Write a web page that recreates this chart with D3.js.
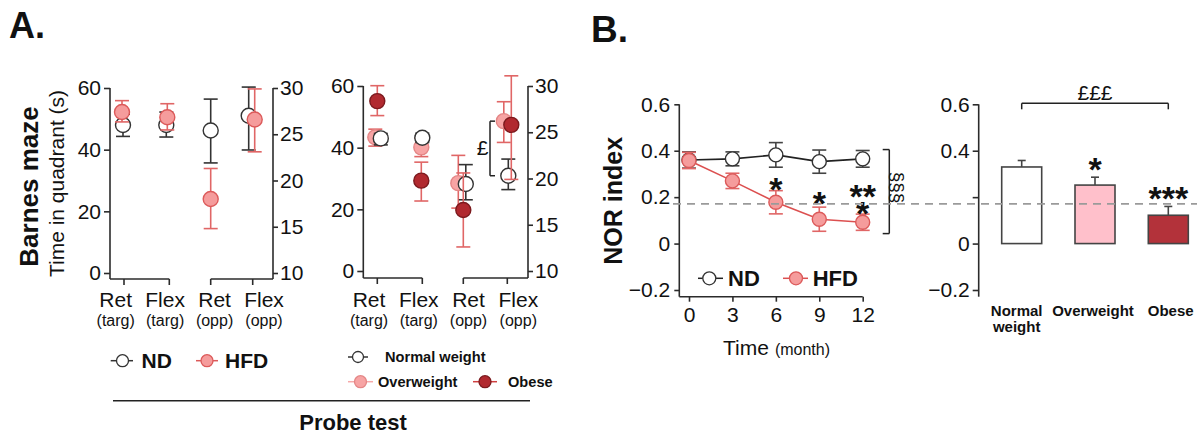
<!DOCTYPE html>
<html><head><meta charset="utf-8">
<script src="https://cdn.jsdelivr.net/npm/d3@7"></script>
<style>
body{margin:0;background:#fff}
svg{display:block}
text{font-family:"Liberation Sans",Arial,Helvetica,sans-serif;fill:#111}
</style>
</head><body>
<svg id="c" width="1202" height="434"></svg>
<script>
// ---------------- DATA ----------------
const probeMain = ["Ret", "Flex", "Ret", "Flex"];
const probeSub = ["(targ)", "(targ)", "(opp)", "(opp)"];
const leftTicksA = [0, 20, 40, 60];
const rightTicksA = [10, 15, 20, 25, 30];
// first two categories on left axis (s), last two on right axis
const ndMean = [48.0, 48.0, 25.4, 27.0];
const ndLow = [44.3, 44.1, 21.9, 23.3];
const ndHigh = [51.5, 52.2, 28.8, 30.1];
const hfdMean = [52.2, 50.5, 18.0, 26.6];
const hfdLow = [49.0, 46.4, 14.8, 23.1];
const hfdHigh = [55.9, 54.9, 21.3, 29.9];

const normMean = [43.0, 43.2, 19.4, 20.3];
const normLow = [40.9, 41.7, 17.7, 18.8];
const normHigh = [44.6, 44.7, 21.5, 22.1];
const overMean = [43.4, 40.1, 19.5, 26.2];
const overLow = [40.5, 37.1, 16.8, 23.9];
const overHigh = [46.0, 43.1, 22.5, 28.3];
const obeseMean = [55.1, 29.3, 16.6, 25.8];
const obeseLow = [50.4, 22.7, 12.6, 19.9];
const obeseHigh = [60.1, 35.3, 20.6, 31.1];

const months = [0, 3, 6, 9, 12];
const norTicks = [-0.2, 0, 0.2, 0.4, 0.6];
const norND = [0.360, 0.365, 0.382, 0.353, 0.365];
const norNDerr = [0.035, 0.030, 0.053, 0.050, 0.036];
const norHFD = [0.358, 0.270, 0.178, 0.105, 0.092];
const norHFDerr = [0.035, 0.033, 0.050, 0.052, 0.035];
const chanceLevel = 0.171;
const starsB = [["*", 6, 0.265], ["*", 9, 0.205], ["**", 12, 0.232], ["*", 12, 0.160]];

const groups = ["Normal weight", "Overweight", "Obese"];
const groupMean = [0.330, 0.252, 0.122];
const groupErr = [0.028, 0.034, 0.038];
const groupStars = ["", "*", "***"];

// ---------------- STYLE / LAYOUT ----------------
const C = {
  axis: "#2b2b2b", nd: "#333", ndFill: "#fff",
  hfdFill: "#f59c9c", hfdStroke: "#dc5a5a", hfdErr: "#e06666",
  overFill: "#f7a4a4", overStroke: "#e48686",
  obeseFill: "#b1292f", obeseStroke: "#7c1a1e",
  barOver: "#ffc0cb", barObese: "#b3323a"
};
const STAR = 34;
const svg = d3.select("#c");
svg.append("rect").attr("width", 1202).attr("height", 434).attr("fill", "#fff");

function vline(g, x, y1, y2, color, w) {
  g.append("line").attr("x1", x).attr("x2", x).attr("y1", y1).attr("y2", y2)
    .attr("stroke", color || C.axis).attr("stroke-width", w || 1.6);
}
function hline(g, x1, x2, y, color, w) {
  g.append("line").attr("x1", x1).attr("x2", x2).attr("y1", y).attr("y2", y)
    .attr("stroke", color || C.axis).attr("stroke-width", w || 1.6);
}
function styleAxis(sel, fs) {
  sel.select(".domain").remove();
  sel.selectAll(".tick line").attr("stroke", C.axis).attr("stroke-width", 1.6);
  sel.selectAll(".tick text").attr("font-size", fs).attr("fill", "#111")
    .attr("font-family", '"Liberation Sans",Arial,sans-serif');
}

// ---------------- PANEL A helper ----------------
function probePanel(cfg) {
  const g = svg.append("g");
  const yL = d3.scaleLinear().domain([0, 60]).range([cfg.yBot, cfg.yTop]);
  const yR = d3.scaleLinear().domain([10, 30]).range([cfg.yBot, cfg.yTop]);
  const x = d3.scaleLinear().domain([0, 1, 2, 3]).range(cfg.ticks);
  const xl = d3.scaleLinear().domain([0, 3]).range(cfg.labelRange);
  const yOf = i => (i < 2 ? yL : yR);

  const ga = g.append("g").attr("transform", `translate(${cfg.axL},0)`)
    .call(d3.axisLeft(yL).tickValues(leftTicksA).tickSize(6).tickPadding(3));
  styleAxis(ga, 21);
  vline(g, cfg.axL, cfg.yTop, cfg.xAxY);
  const gb = g.append("g").attr("transform", `translate(${cfg.axR},0)`)
    .call(d3.axisRight(yR).tickValues(rightTicksA).tickSize(5).tickPadding(2));
  styleAxis(gb, 21);
  vline(g, cfg.axR, cfg.yTop, cfg.xAxY);
  // x axis: two segments
  hline(g, cfg.axL, x(1), cfg.xAxY);
  hline(g, x(2), cfg.axR, cfg.xAxY);
  g.selectAll(".xt").data(probeMain).join("line")
    .attr("x1", (d, i) => x(i)).attr("x2", (d, i) => x(i))
    .attr("y1", cfg.xAxY).attr("y2", cfg.xAxY + 6)
    .attr("stroke", C.axis).attr("stroke-width", 1.6);
  g.selectAll(".xm").data(probeMain).join("text")
    .attr("x", (d, i) => xl(i)).attr("y", 307).attr("text-anchor", "middle")
    .attr("font-size", 21).text(d => d);
  g.selectAll(".xs").data(probeSub).join("text")
    .attr("x", (d, i) => xl(i)).attr("y", 326).attr("text-anchor", "middle")
    .attr("font-size", 16).text(d => d);

  cfg.series.forEach(s => {
    const sg = g.append("g");
    const cap = 7;
    s.mean.forEach((m, i) => {
      const cx = x(i) + s.off[i];
      const y = yOf(i);
      sg.append("line").attr("x1", cx).attr("x2", cx).attr("y1", y(s.low[i])).attr("y2", y(s.high[i]))
        .attr("stroke", s.err).attr("stroke-width", 1.6);
      [s.low[i], s.high[i]].forEach(v =>
        sg.append("line").attr("x1", cx - cap).attr("x2", cx + cap).attr("y1", y(v)).attr("y2", y(v))
          .attr("stroke", s.err).attr("stroke-width", 1.6));
    });
    sg.selectAll("circle").data(s.mean).join("circle")
      .attr("cx", (d, i) => x(i) + s.off[i]).attr("cy", (d, i) => yOf(i)(d)).attr("r", 7.5)
      .attr("fill", s.fill).attr("stroke", s.stroke).attr("stroke-width", 1.4);
  });
  return {g, x, yL, yR};
}

// Panel A left
probePanel({
  axL: 110, axR: 273, yTop: 88, yBot: 273, xAxY: 279,
  ticks: [124, 169.3, 210.7, 252.7], labelRange: [115.7, 264],
  series: [
    {mean: ndMean, low: ndLow, high: ndHigh, off: [-1, -3, 0, -4], fill: C.ndFill, stroke: C.nd, err: C.nd},
    {mean: hfdMean, low: hfdLow, high: hfdHigh, off: [-2, -2, 0, 2], fill: C.hfdFill, stroke: C.hfdStroke, err: C.hfdErr}
  ]
});
// Panel A right
const pr = probePanel({
  axL: 363.3, axR: 528, yTop: 86, yBot: 271, xAxY: 278,
  ticks: [377.3, 422.3, 463.3, 507.3], labelRange: [369, 518.3],
  series: [
    {mean: overMean, low: overLow, high: overHigh, off: [-2, -1, -5, -3.5], fill: C.overFill, stroke: C.overStroke, err: C.hfdErr},
    {mean: normMean, low: normLow, high: normHigh, off: [3.5, 0, 2.5, 1], fill: C.ndFill, stroke: C.nd, err: C.nd},
    {mean: obeseMean, low: obeseLow, high: obeseHigh, off: [0, -1, 0, 4], fill: C.obeseFill, stroke: C.obeseStroke, err: C.hfdErr}
  ]
});
// £ bracket between overweight and normal at Flex(opp)
{
  const g = pr.g;
  const y1 = pr.yR(overMean[3]), y2 = pr.yR(normMean[3]);
  vline(g, 490, y1, y2, "#222", 1.5);
  hline(g, 490, 495, y1, "#222", 1.5);
  hline(g, 490, 495, y2, "#222", 1.5);
  g.append("text").attr("x", 482.5).attr("y", (y1 + y2) / 2 + 7).attr("text-anchor", "middle")
    .attr("font-size", 21).text("£");
}

// Panel A titles / labels
svg.append("text").attr("x", 9).attr("y", 37.5).attr("font-size", 36).attr("font-weight", "bold").text("A.");
svg.append("text").attr("transform", "translate(37.5,186.5) rotate(-90)").attr("text-anchor", "middle")
  .attr("font-size", 26).attr("font-weight", "bold").text("Barnes maze");
svg.append("text").attr("transform", "translate(64,183.5) rotate(-90)").attr("text-anchor", "middle")
  .attr("font-size", 21).text("Time in quadrant (s)");

// Panel A legends
function legendItem(g, x1, x2, cx, cy, r, lineColor, fill, stroke, label, tx, fs, bold) {
  hline(g, x1, x2, cy, lineColor, 1.5);
  g.append("circle").attr("cx", cx).attr("cy", cy).attr("r", r).attr("fill", fill).attr("stroke", stroke).attr("stroke-width", 1.3);
  g.append("text").attr("x", tx).attr("y", cy + fs * 0.36).attr("font-size", fs)
    .attr("font-weight", bold ? "bold" : "normal").text(label);
}
const lg = svg.append("g");
legendItem(lg, 110.7, 133, 122.5, 360.7, 6, "#333", "#fff", "#333", "ND", 141.5, 21, true);
legendItem(lg, 196, 218, 207, 360.7, 6, C.hfdStroke, C.hfdFill, C.hfdStroke, "HFD", 225, 21, true);
legendItem(lg, 348, 368, 358, 357, 5.5, "#333", "#fff", "#333", "Normal weight", 385, 14.6, true);
legendItem(lg, 348, 373, 360.5, 381.7, 6, "#f6a9a9", C.overFill, C.overStroke, "Overweight", 378, 14.6, true);
legendItem(lg, 473, 497, 485, 381.7, 6, "#d04040", C.obeseFill, C.obeseStroke, "Obese", 508, 14.6, true);
hline(lg, 113, 530, 400.7, "#222", 1.5);
lg.append("text").attr("x", 353).attr("y", 430).attr("text-anchor", "middle")
  .attr("font-size", 22).attr("font-weight", "bold").text("Probe test");

// ---------------- PANEL B left ----------------
const gB = svg.append("g");
const yB = d3.scaleLinear().domain([-0.2, 0.6]).range([290, 104.3]);
const xB = d3.scaleLinear().domain([0, 12]).range([689, 862.7]);
const fmtB = d => d === 0 ? "0" : d3.format(".1f")(d);
{
  const ga = gB.append("g").attr("transform", "translate(679.3,0)")
    .call(d3.axisLeft(yB).tickValues(norTicks).tickFormat(fmtB).tickSize(5).tickPadding(4));
  styleAxis(ga, 21);
  vline(gB, 679.3, 104.3, 296.7);
  const gx = gB.append("g").attr("transform", "translate(0,296.7)")
    .call(d3.axisBottom(xB).tickValues(months).tickSize(5).tickPadding(5));
  styleAxis(gx, 21);
  hline(gB, 679.3, 862.7, 296.7);

  // chance level dashed line across both B panels
  svg.append("line").attr("x1", 673).attr("x2", 1197).attr("y1", yB(chanceLevel)).attr("y2", yB(chanceLevel))
    .attr("stroke", "#9a9a9a").attr("stroke-width", 1.6).attr("stroke-dasharray", "8,6").attr("class", "chance");

  const series = [
    {v: norND, e: norNDerr, line: "#222", err: "#444", fill: "#fff", stroke: "#333"},
    {v: norHFD, e: norHFDerr, line: "#dc5050", err: "#e06666", fill: C.hfdFill, stroke: C.hfdStroke}
  ];
  series.forEach(s => {
    const sg = gB.append("g");
    sg.append("path").datum(s.v)
      .attr("d", d3.line().x((d, i) => xB(months[i])).y(d => yB(d)))
      .attr("fill", "none").attr("stroke", s.line).attr("stroke-width", 1.6);
    s.v.forEach((v, i) => {
      const cx = xB(months[i]);
      sg.append("line").attr("x1", cx).attr("x2", cx).attr("y1", yB(v - s.e[i])).attr("y2", yB(v + s.e[i]))
        .attr("stroke", s.err).attr("stroke-width", 1.6);
      [v - s.e[i], v + s.e[i]].forEach(w =>
        sg.append("line").attr("x1", cx - 7).attr("x2", cx + 7).attr("y1", yB(w)).attr("y2", yB(w))
          .attr("stroke", s.err).attr("stroke-width", 1.6));
    });
    sg.selectAll("circle").data(s.v).join("circle")
      .attr("cx", (d, i) => xB(months[i])).attr("cy", d => yB(d)).attr("r", 7)
      .attr("fill", s.fill).attr("stroke", s.stroke).attr("stroke-width", 1.4);
  });
  // stars
  gB.selectAll(".star").data(starsB).join("text")
    .attr("x", d => xB(d[1])).attr("y", d => yB(d[2]) + STAR * 0.55)
    .attr("text-anchor", "middle").attr("font-size", STAR).attr("font-weight", "bold").text(d => d[0]);
  // §§§ bracket
  const yt = yB(0.405), yb = yB(0.043);
  vline(gB, 889.3, yt, yb, "#222", 1.5);
  hline(gB, 882.7, 889.3, yt, "#222", 1.5);
  hline(gB, 882.7, 889.3, yb, "#222", 1.5);
  gB.append("text").attr("transform", `translate(891,${(yt + yb) / 2 - 4}) rotate(90)`).attr("text-anchor", "middle")
    .attr("font-size", 19).text("§§§");

  // legend
  legendItem(gB, 698, 723, 709.3, 278.3, 6.5, "#222", "#fff", "#333", "ND", 728, 22, true);
  legendItem(gB, 783, 808, 796, 278.3, 6.5, "#dc5050", C.hfdFill, C.hfdStroke, "HFD", 812.7, 22, true);

  svg.append("text").attr("x", 591).attr("y", 41.7).attr("font-size", 37).attr("font-weight", "bold").text("B.");
  svg.append("text").attr("transform", "translate(621.5,200.8) rotate(-90)").attr("text-anchor", "middle")
    .attr("font-size", 25).attr("font-weight", "bold").text("NOR index");
  const tl = svg.append("text").attr("x", 723).attr("y", 355).attr("font-size", 21);
  tl.append("tspan").text("Time");
  tl.append("tspan").attr("dx", 6).attr("font-size", 16).text("(month)");
}

// ---------------- PANEL B right ----------------
const gC = svg.append("g");
{
  const xC = d3.scalePoint().domain(groups).range([1021.7, 1168.3]);
  const ga = gC.append("g").attr("transform", "translate(978.7,0)")
    .call(d3.axisLeft(yB).tickValues(norTicks).tickFormat(d => Math.abs(d - 0.2) < 1e-9 ? "" : fmtB(d)).tickSize(6).tickPadding(3));
  styleAxis(ga, 21);
  vline(gC, 978.7, 104.3, 296.7);
  const fills = ["#fff", C.barOver, C.barObese];
  const bw = 40;
  gC.selectAll("rect.bar").data(groupMean).join("rect").attr("class", "bar")
    .attr("x", (d, i) => xC(groups[i]) - bw / 2).attr("width", bw)
    .attr("y", d => yB(d)).attr("height", d => yB(0) - yB(d))
    .attr("fill", (d, i) => fills[i]).attr("stroke", "#444").attr("stroke-width", 1.6);
  groupMean.forEach((m, i) => {
    const cx = xC(groups[i]);
    vline(gC, cx, yB(m), yB(m + groupErr[i]), "#444", 1.6);
    hline(gC, cx - 4, cx + 4, yB(m + groupErr[i]), "#444", 1.6);
  });
  gC.selectAll(".gs").data(groupStars).join("text")
    .attr("x", (d, i) => xC(groups[i])).attr("y", (d, i) => yB(groupMean[i] + groupErr[i]) - 15 + STAR * 0.55)
    .attr("text-anchor", "middle").attr("font-size", STAR).attr("font-weight", "bold").text(d => d);
  // £££ bracket normal vs obese
  const by = 103.3;
  hline(gC, xC(groups[0]), xC(groups[2]), by, "#222", 1.5);
  vline(gC, xC(groups[0]), by, by + 6, "#222", 1.5);
  vline(gC, xC(groups[2]), by, by + 6, "#222", 1.5);
  gC.append("text").attr("x", (xC(groups[0]) + xC(groups[2])) / 2).attr("y", 99.5).attr("text-anchor", "middle")
    .attr("font-size", 21).text("£££");
  // category labels
  const labelX = [1016.7, 1093, 1170.7];
  gC.append("text").attr("x", labelX[0]).attr("y", 315.5).attr("text-anchor", "middle").attr("font-size", 15).attr("font-weight", "bold").text("Normal");
  gC.append("text").attr("x", labelX[0]).attr("y", 332).attr("text-anchor", "middle").attr("font-size", 15).attr("font-weight", "bold").text("weight");
  gC.append("text").attr("x", labelX[1]).attr("y", 315.5).attr("text-anchor", "middle").attr("font-size", 15).attr("font-weight", "bold").text(groups[1]);
  gC.append("text").attr("x", labelX[2]).attr("y", 315.5).attr("text-anchor", "middle").attr("font-size", 15).attr("font-weight", "bold").text(groups[2]);
}
// bring dashed line above bars
svg.select("line.chance").raise();
</script>
</body></html>
